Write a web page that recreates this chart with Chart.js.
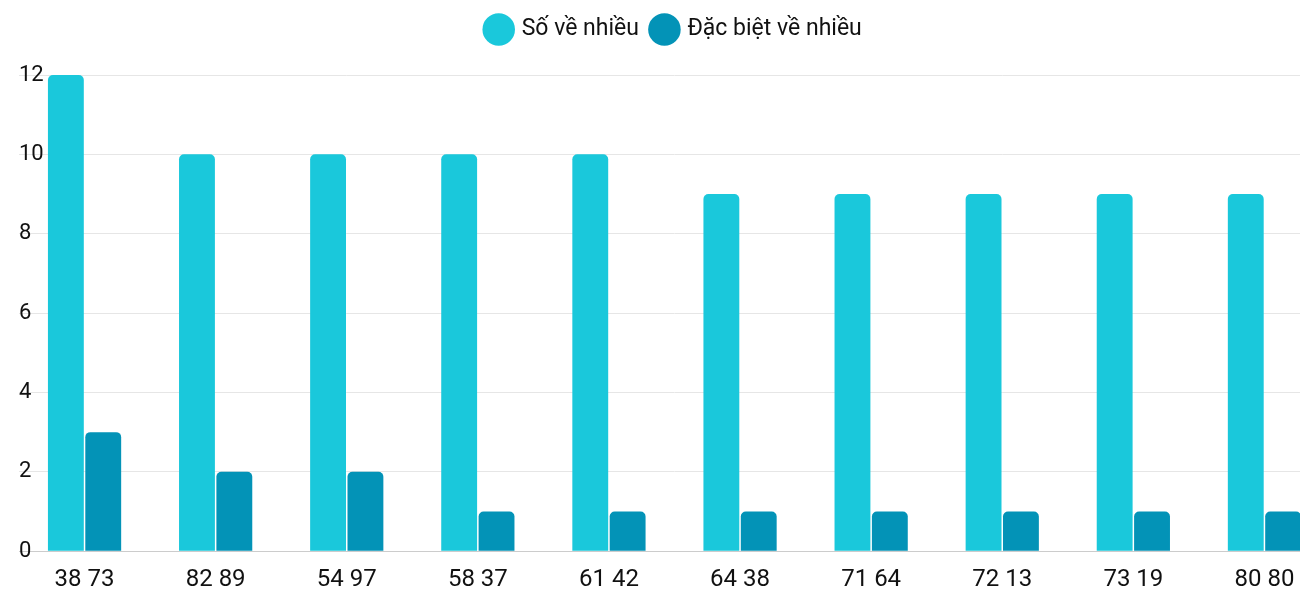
<!DOCTYPE html>
<html>
<head>
<meta charset="utf-8">
<script src="https://cdn.jsdelivr.net/npm/chart.js@4/dist/chart.umd.min.js"></script>
<style>
  html, body { margin: 0; padding: 0; overflow: hidden; background: #fff; }
  #wrap { width: 1330px; height: 600px; }
</style>
</head>
<body>
<div id="wrap"><canvas id="chart"></canvas></div>
<script>
// --- Data ---
const categories = ['38 73', '82 89', '54 97', '58 37', '61 42', '64 38', '71 64', '72 13', '73 19', '80 80'];
const soVeNhieu = [12, 10, 10, 10, 10, 9, 9, 9, 9, 9];
const dacBietVeNhieu = [3, 2, 2, 1, 1, 1, 1, 1, 1, 1];
const yTicks = [0, 2, 4, 6, 8, 10, 12];

Chart.defaults.font.family = 'Roboto, sans-serif';
Chart.defaults.color = '#111';

// Extra space below the legend
const legendSpacer = {
    id: 'legendSpacer',
    beforeInit(chart) {
        const origFit = chart.legend.fit;
        chart.legend.fit = function () {
            origFit.bind(chart.legend)();
            this.height += 24;
        };
    }
};

new Chart(document.getElementById('chart').getContext('2d'), {
    type: 'bar',
    data: {
        labels: categories,
        datasets: [{
            label: 'Số về nhiều',
            data: soVeNhieu,
            backgroundColor: '#1AC8DB',
            borderRadius: { topLeft: 5, topRight: 5 },
            borderSkipped: 'bottom',
            categoryPercentage: 0.57,
            barPercentage: 0.96
        }, {
            label: 'Đặc biệt về nhiều',
            data: dacBietVeNhieu,
            backgroundColor: '#0393B7',
            borderRadius: { topLeft: 5, topRight: 5 },
            borderSkipped: 'bottom',
            categoryPercentage: 0.57,
            barPercentage: 0.96
        }]
    },
    options: {
        responsive: true,
        maintainAspectRatio: false,
        animation: false,
        layout: { padding: { left: 19, right: 0, top: 4, bottom: 0 } },
        plugins: {
            legend: {
                labels: {
                    usePointStyle: true,
                    pointStyle: 'circle',
                    boxWidth: 28,
                    boxHeight: 28,
                    padding: 14,
                    font: { size: 23 },
                    color: '#111'
                }
            },
            tooltip: { enabled: false }
        },
        scales: {
            x: {
                grid: { display: false },
                border: { color: '#ccc' },
                ticks: { font: { size: 24 }, color: '#111', padding: 6 }
            },
            y: {
                min: 0,
                max: 12,
                afterBuildTicks: (scale) => { scale.ticks = yTicks.map(v => ({ value: v })); },
                grid: { color: '#e6e6e6', drawTicks: false },
                border: { display: false },
                ticks: { mirror: true, padding: 0, font: { size: 22 }, color: '#111' }
            }
        }
    },
    plugins: [legendSpacer]
});
</script>
</body>
</html>
